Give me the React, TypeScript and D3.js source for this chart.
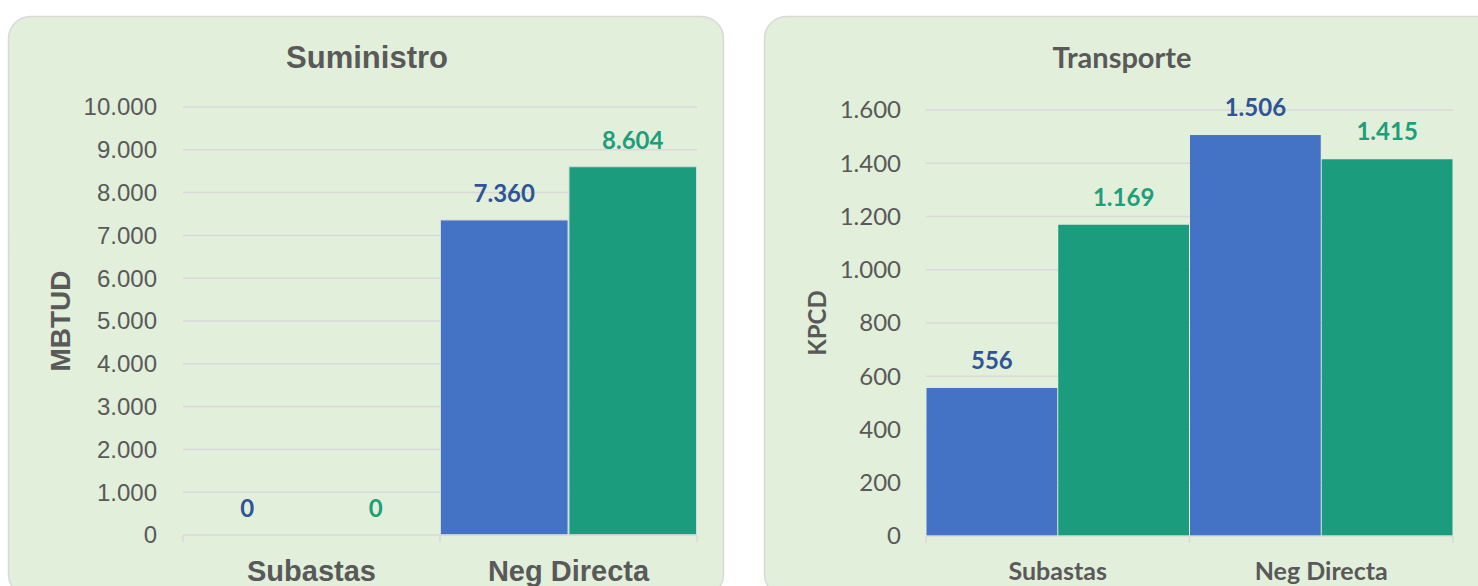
import React from "react";
import * as d3 from "d3";

const categories = ["Subastas", "Neg Directa"];
const suministroBlue = [0, 7360];
const suministroGreen = [0, 8604];
const transporteBlue = [556, 1506];
const transporteGreen = [1169, 1415];
const suministroTicks = [0, 1000, 2000, 3000, 4000, 5000, 6000, 7000, 8000, 9000, 10000];
const transporteTicks = [0, 200, 400, 600, 800, 1000, 1200, 1400, 1600];

const fmt = d3.formatLocale({ decimal: ",", thousands: ".", grouping: [3], currency: ["", "€"] }).format(",.0f");

const BLUE = "#4472C4";
const GREEN = "#1B9C7C";
const BLUE_T = "#2F5597";
const GREEN_T = "#1E9E7A";
const GRAY = "#595959";
const GRID = "#D9D9D9";
const PANEL = "#E2EFDA";

type PanelProps = {
  px: number; pw: number;
  title: string; titleFont: string; titleSize: number; titleY: number; titleX: number;
  axisLabel: string; axisLabelX: number; axisLabelSize: number; axisFont: string;
  ticks: number[]; yMax: number; y0: number; yTop: number;
  x0: number; x1: number; tickX: number; tickFont: string; tickSize: number;
  blue: number[]; green: number[];
  valFont: string; valSize: number; valOffset: number;
  catFont: string; catSize: number; catY: number;
  barStroke: string;
};

function Panel(p: PanelProps) {
  const y = d3.scaleLinear().domain([0, p.yMax]).range([p.y0, p.yTop]);
  const x = d3.scaleBand().domain(categories).range([p.x0, p.x1]).padding(0);
  const sub = d3.scaleBand().domain(["b", "g"]).range([0, x.bandwidth()]).padding(0);
  return (
    <g>
      <rect x={p.px} y={16.5} width={p.pw} height={580} rx={22} ry={22} fill={PANEL} stroke={GRID} strokeWidth={1.5} />
      <text x={p.titleX} y={p.titleY} textAnchor="middle" fontFamily={p.titleFont} fontWeight="bold" fontSize={p.titleSize} fill={GRAY}>{p.title}</text>
      {p.ticks.map((t) => (
        <g key={t}>
          {t !== 0 && <line x1={p.x0} x2={p.x1} y1={y(t)} y2={y(t)} stroke={GRID} strokeWidth={1.5} />}
          <text x={p.tickX} y={y(t)} dy="0.35em" textAnchor="end" fontFamily={p.tickFont} fontSize={p.tickSize} fill={GRAY}>{fmt(t)}</text>
        </g>
      ))}
      <text transform={`translate(${p.axisLabelX},${(p.y0 + p.yTop) / 2}) rotate(-90)`} textAnchor="middle" dy="0.35em" fontFamily={p.axisFont} fontWeight="bold" fontSize={p.axisLabelSize} fill={GRAY}>{p.axisLabel}</text>
      {categories.map((c, i) => {
        const bx = x(c)!;
        const vals = [p.blue[i], p.green[i]];
        return (
          <g key={c}>
            {vals.map((v, j) => {
              const sx = bx + sub(j === 0 ? "b" : "g")!;
              return v > 0 ? (
                <rect key={j} x={sx + 0.5} y={y(v)} width={sub.bandwidth() - 1} height={p.y0 - y(v)} fill={j === 0 ? BLUE : GREEN} stroke={p.barStroke} strokeWidth={1} />
              ) : null;
            })}
            {vals.map((v, j) => (
              <text key={"l" + j} x={bx + sub(j === 0 ? "b" : "g")! + sub.bandwidth() / 2} y={y(v) - p.valOffset} textAnchor="middle" fontFamily={p.valFont} fontWeight="bold" fontSize={p.valSize} fill={j === 0 ? BLUE_T : GREEN_T}>{fmt(v)}</text>
            ))}
            <text x={bx + x.bandwidth() / 2} y={p.catY} textAnchor="middle" fontFamily={p.catFont} fontWeight="bold" fontSize={p.catSize} fill={GRAY}>{c}</text>
          </g>
        );
      })}
      <line x1={p.x0} x2={p.x1} y1={p.y0} y2={p.y0} stroke={GRID} strokeWidth={1.5} />
      {[p.x0, ...categories.map((c) => x(c)! + x.bandwidth())].map((t, i) => (
        <line key={i} x1={t} x2={t} y1={p.y0} y2={p.y0 + 7} stroke={GRID} strokeWidth={1.5} />
      ))}
    </g>
  );
}

export default function App() {
  return (
    <svg width={1478} height={586} style={{ position: "absolute", left: 0, top: 0, background: "#fff" }}>
      <Panel
        px={8.5} pw={715} title="Suministro" titleFont="Liberation Sans, Arial, sans-serif" titleSize={31} titleY={68} titleX={367}
        axisLabel="MBTUD" axisLabelX={60} axisLabelSize={28} axisFont="Liberation Sans, Arial, sans-serif"
        ticks={suministroTicks} yMax={10000} y0={535} yTop={107}
        x0={183} x1={697} tickX={157} tickFont="Liberation Sans, Arial, sans-serif" tickSize={24}
        blue={suministroBlue} green={suministroGreen}
        valFont="Lato, sans-serif" valSize={24} valOffset={18}
        catFont="Liberation Sans, Arial, sans-serif" catSize={29} catY={581}
        barStroke="#D0D8E0"
      />
      <Panel
        px={764.5} pw={740} title="Transporte" titleFont="Lato, sans-serif" titleSize={29} titleY={68} titleX={1122}
        axisLabel="KPCD" axisLabelX={818} axisLabelSize={24} axisFont="Lato, sans-serif"
        ticks={transporteTicks} yMax={1600} y0={536} yTop={110}
        x0={926} x1={1453} tickX={901} tickFont="Lato, sans-serif" tickSize={24}
        blue={transporteBlue} green={transporteGreen}
        valFont="Lato, sans-serif" valSize={24} valOffset={19}
        catFont="Lato, sans-serif" catSize={25} catY={580}
        barStroke="none"
      />
    </svg>
  );
}
